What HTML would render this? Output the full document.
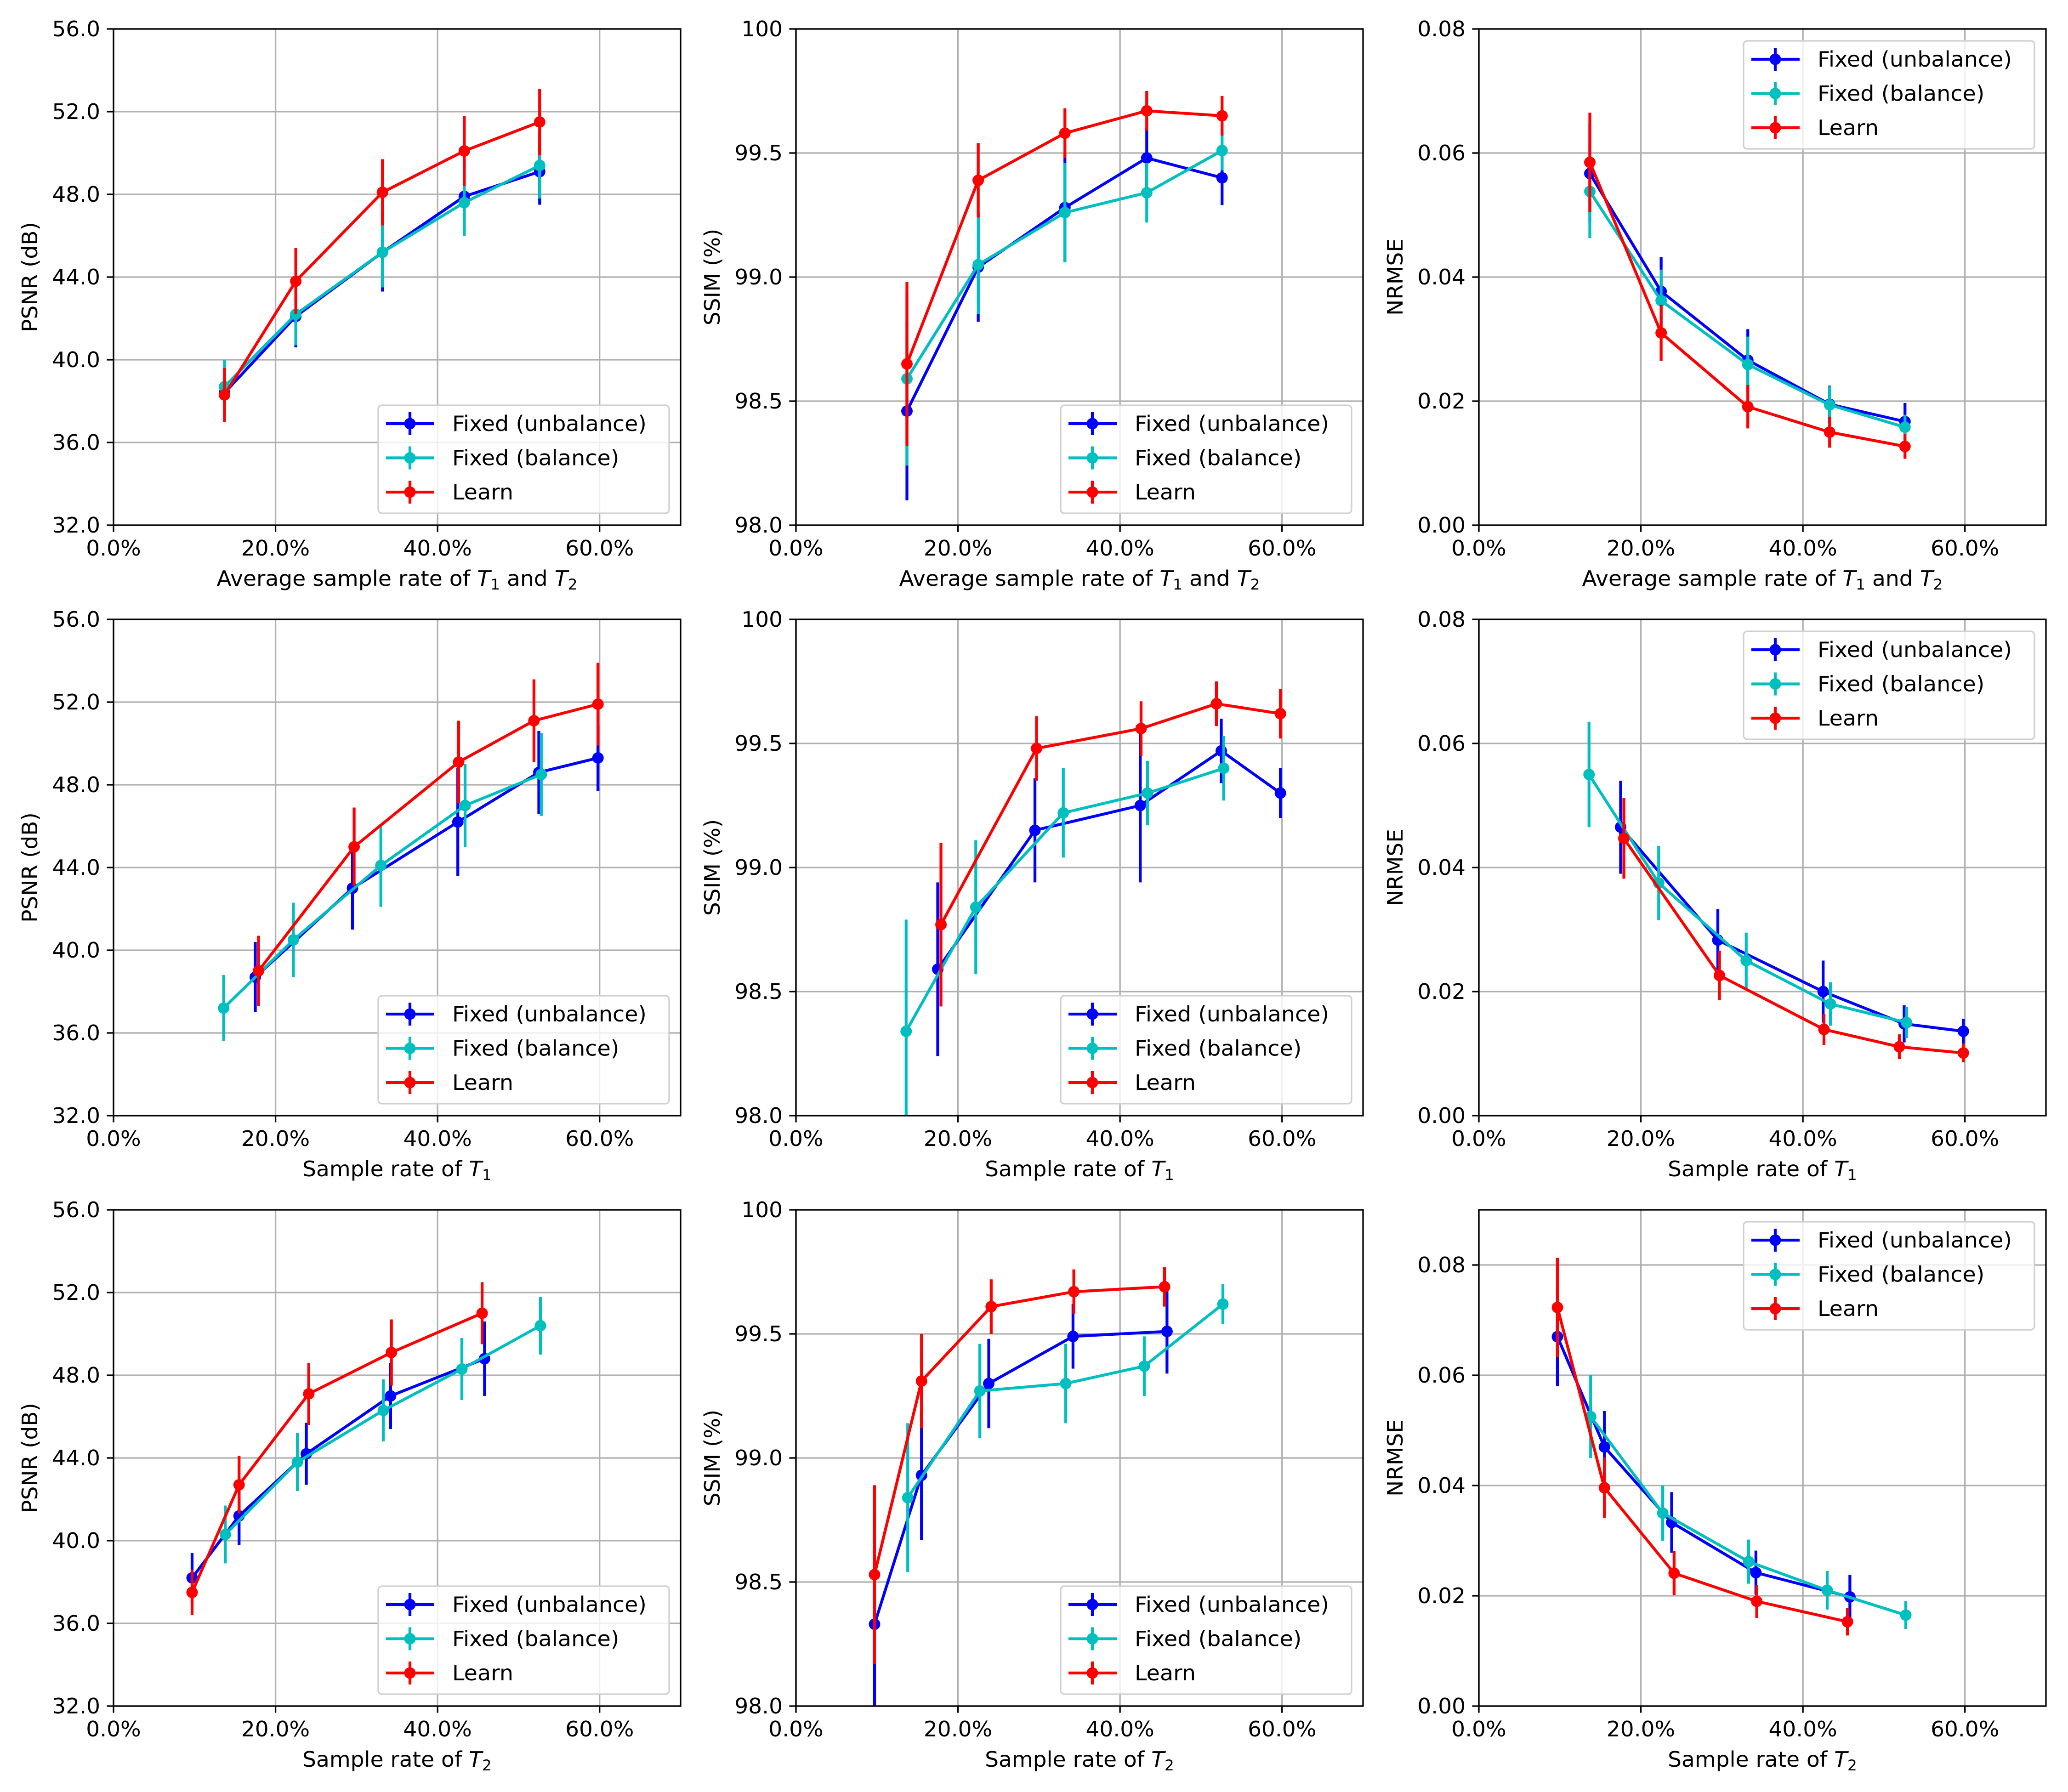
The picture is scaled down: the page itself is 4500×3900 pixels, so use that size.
<!DOCTYPE html>
<html><head><meta charset="utf-8">
<style>
html,body{margin:0;padding:0;background:#fff;}
svg{display:block;font-family:"DejaVu Sans","Liberation Sans",sans-serif;}
</style></head>
<body>
<svg id="fig" width="4500" height="3900" viewBox="0 0 4500 3900" xmlns="http://www.w3.org/2000/svg"></svg>
<script>
// ---- data ----
const xAvg = [13.7, 22.5, 33.2, 43.3, 52.6];
const xT1Unb = [17.5, 29.5, 42.5, 52.5, 59.8];
const xT1Bal = [13.6, 22.2, 33.0, 43.4, 52.8];
const xT1Lrn = [17.9, 29.7, 42.6, 51.9, 59.8];
const xT2Unb = [9.7, 15.5, 23.8, 34.2, 45.8];
const xT2Bal = [13.8, 22.7, 33.3, 43.0, 52.7];
const xT2Lrn = [9.7, 15.5, 24.1, 34.3, 45.5];

const p1UnbY = [38.4, 42.1, 45.2, 47.9, 49.1];
const p1UnbE = [1.3, 1.5, 1.9, 1.8, 1.6];
const p1BalY = [38.7, 42.2, 45.2, 47.6, 49.4];
const p1BalE = [1.3, 1.5, 1.7, 1.6, 1.6];
const p1LrnY = [38.3, 43.8, 48.1, 50.1, 51.5];
const p1LrnE = [1.3, 1.6, 1.6, 1.7, 1.6];

const p2UnbY = [98.46, 99.04, 99.28, 99.48, 99.40];
const p2UnbE = [0.36, 0.22, 0.22, 0.12, 0.11];
const p2BalY = [98.59, 99.05, 99.26, 99.34, 99.51];
const p2BalE = [0.35, 0.20, 0.20, 0.12, 0.08];
const p2LrnY = [98.65, 99.39, 99.58, 99.67, 99.65];
const p2LrnE = [0.33, 0.15, 0.10, 0.08, 0.08];

const p3UnbY = [0.0567, 0.0377, 0.0266, 0.0195, 0.0167];
const p3UnbE = [0.008, 0.0055, 0.005, 0.003, 0.003];
const p3BalY = [0.0538, 0.0362, 0.0259, 0.0194, 0.0158];
const p3BalE = [0.0075, 0.005, 0.0045, 0.003, 0.002];
const p3LrnY = [0.0585, 0.031, 0.0191, 0.015, 0.0127];
const p3LrnE = [0.008, 0.0045, 0.0035, 0.0025, 0.002];

const p4UnbY = [38.7, 43.0, 46.2, 48.6, 49.3];
const p4UnbE = [1.7, 2.0, 2.6, 2.0, 1.6];
const p4BalY = [37.2, 40.5, 44.1, 47.0, 48.5];
const p4BalE = [1.6, 1.8, 2.0, 2.0, 2.0];
const p4LrnY = [39.0, 45.0, 49.1, 51.1, 51.9];
const p4LrnE = [1.7, 1.9, 2.0, 2.0, 2.0];

const p5UnbY = [98.59, 99.15, 99.25, 99.47, 99.30];
const p5UnbE = [0.35, 0.21, 0.31, 0.13, 0.10];
const p5BalY = [98.34, 98.84, 99.22, 99.30, 99.40];
const p5BalE = [0.45, 0.27, 0.18, 0.13, 0.13];
const p5LrnY = [98.77, 99.48, 99.56, 99.66, 99.62];
const p5LrnE = [0.33, 0.13, 0.11, 0.09, 0.10];

const p6UnbY = [0.0465, 0.0283, 0.0200, 0.0148, 0.0136];
const p6UnbE = [0.0075, 0.005, 0.005, 0.003, 0.002];
const p6BalY = [0.055, 0.0375, 0.0250, 0.0180, 0.0150];
const p6BalE = [0.0085, 0.006, 0.0045, 0.0035, 0.0025];
const p6LrnY = [0.0447, 0.0226, 0.0139, 0.0111, 0.0101];
const p6LrnE = [0.0065, 0.004, 0.0025, 0.002, 0.0015];

const p7UnbY = [38.2, 41.2, 44.2, 47.0, 48.8];
const p7UnbE = [1.2, 1.4, 1.5, 1.6, 1.8];
const p7BalY = [40.3, 43.8, 46.3, 48.3, 50.4];
const p7BalE = [1.4, 1.4, 1.5, 1.5, 1.4];
const p7LrnY = [37.5, 42.7, 47.1, 49.1, 51.0];
const p7LrnE = [1.1, 1.4, 1.5, 1.6, 1.5];

const p8UnbY = [98.33, 98.93, 99.30, 99.49, 99.51];
const p8UnbE = [0.45, 0.26, 0.18, 0.13, 0.17];
const p8BalY = [98.84, 99.27, 99.30, 99.37, 99.62];
const p8BalE = [0.30, 0.19, 0.16, 0.12, 0.08];
const p8LrnY = [98.53, 99.31, 99.61, 99.67, 99.69];
const p8LrnE = [0.36, 0.19, 0.11, 0.09, 0.08];

const p9UnbY = [0.067, 0.047, 0.0333, 0.0242, 0.0198];
const p9UnbE = [0.009, 0.0065, 0.0055, 0.004, 0.004];
const p9BalY = [0.0525, 0.035, 0.0262, 0.021, 0.0165];
const p9BalE = [0.0075, 0.005, 0.004, 0.0035, 0.0025];
const p9LrnY = [0.0723, 0.0396, 0.0241, 0.0190, 0.0153];
const p9LrnE = [0.009, 0.0055, 0.004, 0.003, 0.0025];

const xTickVals = [0, 20, 40, 60];
const xTickLabels = ["0.0%", "20.0%", "40.0%", "60.0%"];
const psnrTicks = [32, 36, 40, 44, 48, 52, 56];
const psnrTickLabels = ["32.0", "36.0", "40.0", "44.0", "48.0", "52.0", "56.0"];
const ssimTicks = [98.0, 98.5, 99.0, 99.5, 100];
const ssimTickLabels = ["98.0", "98.5", "99.0", "99.5", "100"];
const nrmseTicks = [0, 0.02, 0.04, 0.06, 0.08];
const nrmseTickLabels = ["0.00", "0.02", "0.04", "0.06", "0.08"];
const seriesNames = ["Fixed (unbalance)", "Fixed (balance)", "Learn"];

// ---- layout ----
const NS = "http://www.w3.org/2000/svg";
const svg = document.getElementById("fig");
const colLeft = [247, 1732, 3218];
const rowTop = [63, 1348, 2633];
const AW = 1234, AH = 1080;
const COLORS = ["#0000ff", "#00bfbf", "#ff0000"];
const FS = 46;

// approximate DejaVu Sans advance widths (em) to fix text lengths
const CW = {"0":.636,"1":.636,"2":.636,"3":.636,"4":.636,"5":.636,"6":.636,"7":.636,"8":.636,"9":.636,
  ".":.318,"%":.95," ":.318,"(":.39,")":.39,"F":.575,"i":.278,"x":.592,"e":.615,"d":.635,"u":.634,"n":.634,
  "b":.635,"a":.613,"l":.278,"c":.55,"L":.557,"r":.411,"P":.603,"S":.635,"N":.748,"R":.695,"B":.686,"M":.863,
  "I":.295,"E":.632,"A":.684,"v":.592,"g":.635,"m":.974,"p":.635,"o":.612,"f":.352,"s":.521,"t":.392,"T":.611};
function tw(s, fs) { let w = 0; for (const ch of s) w += (CW[ch] || .6); return w * fs; }

function mk(tag, attrs, parent) {
  const e = document.createElementNS(NS, tag);
  for (const k in attrs) e.setAttribute(k, attrs[k]);
  (parent || svg).appendChild(e);
  return e;
}
function fit(el, len) {
  el.setAttribute("textLength", len.toFixed(1));
  el.setAttribute("lengthAdjust", "spacingAndGlyphs");
}

const panels = [
  {r:0,c:0,ylab:"PSNR (dB)",xl:"avg",ymin:32,ymax:56,yt:psnrTicks,ytl:psnrTickLabels,leg:"lower",
   xs:[xAvg,xAvg,xAvg],ys:[p1UnbY,p1BalY,p1LrnY],es:[p1UnbE,p1BalE,p1LrnE]},
  {r:0,c:1,ylab:"SSIM (%)",xl:"avg",ymin:98,ymax:100,yt:ssimTicks,ytl:ssimTickLabels,leg:"lower",
   xs:[xAvg,xAvg,xAvg],ys:[p2UnbY,p2BalY,p2LrnY],es:[p2UnbE,p2BalE,p2LrnE]},
  {r:0,c:2,ylab:"NRMSE",xl:"avg",ymin:0,ymax:0.08,yt:nrmseTicks,ytl:nrmseTickLabels,leg:"upper",
   xs:[xAvg,xAvg,xAvg],ys:[p3UnbY,p3BalY,p3LrnY],es:[p3UnbE,p3BalE,p3LrnE]},
  {r:1,c:0,ylab:"PSNR (dB)",xl:"1",ymin:32,ymax:56,yt:psnrTicks,ytl:psnrTickLabels,leg:"lower",
   xs:[xT1Unb,xT1Bal,xT1Lrn],ys:[p4UnbY,p4BalY,p4LrnY],es:[p4UnbE,p4BalE,p4LrnE]},
  {r:1,c:1,ylab:"SSIM (%)",xl:"1",ymin:98,ymax:100,yt:ssimTicks,ytl:ssimTickLabels,leg:"lower",
   xs:[xT1Unb,xT1Bal,xT1Lrn],ys:[p5UnbY,p5BalY,p5LrnY],es:[p5UnbE,p5BalE,p5LrnE]},
  {r:1,c:2,ylab:"NRMSE",xl:"1",ymin:0,ymax:0.08,yt:nrmseTicks,ytl:nrmseTickLabels,leg:"upper",
   xs:[xT1Unb,xT1Bal,xT1Lrn],ys:[p6UnbY,p6BalY,p6LrnY],es:[p6UnbE,p6BalE,p6LrnE]},
  {r:2,c:0,ylab:"PSNR (dB)",xl:"2",ymin:32,ymax:56,yt:psnrTicks,ytl:psnrTickLabels,leg:"lower",
   xs:[xT2Unb,xT2Bal,xT2Lrn],ys:[p7UnbY,p7BalY,p7LrnY],es:[p7UnbE,p7BalE,p7LrnE]},
  {r:2,c:1,ylab:"SSIM (%)",xl:"2",ymin:98,ymax:100,yt:ssimTicks,ytl:ssimTickLabels,leg:"lower",
   xs:[xT2Unb,xT2Bal,xT2Lrn],ys:[p8UnbY,p8BalY,p8LrnY],es:[p8UnbE,p8BalE,p8LrnE]},
  {r:2,c:2,ylab:"NRMSE",xl:"2",ymin:0,ymax:0.09,yt:nrmseTicks,ytl:nrmseTickLabels,leg:"upper",
   xs:[xT2Unb,xT2Bal,xT2Lrn],ys:[p9UnbY,p9BalY,p9LrnY],es:[p9UnbE,p9BalE,p9LrnE]}
];

panels.forEach((p, idx) => {
  const L = colLeft[p.c], T = rowTop[p.r];
  const g = mk("g", {});
  
  
  const xs = v => L + (v / 70) * AW;
  const ys = v => T + AH - (v - p.ymin) / (p.ymax - p.ymin) * AH;
  const clipId = "clip" + idx;
  const cp = mk("clipPath", {id: clipId}, g);
  mk("rect", {x: L, y: T, width: AW, height: AH}, cp);

  xTickVals.forEach(v => {
    const l = mk("line", {x1: xs(v), x2: xs(v), y1: T, y2: T + AH, stroke: "#b0b0b0", "stroke-width": 3.3}, g);
    
    
  });
  p.yt.forEach(v => {
    const l = mk("line", {x1: L, x2: L + AW, y1: ys(v), y2: ys(v), stroke: "#b0b0b0", "stroke-width": 3.3}, g);
    
    
  });

  const dg = mk("g", {"clip-path": "url(#" + clipId + ")"}, g);
  for (let s = 0; s < 3; s++) {
    const sg = mk("g", {}, dg);
    
    
    const X = p.xs[s], Y = p.ys[s], E = p.es[s];
    const pts = X.map((x, i) => xs(x).toFixed(1) + "," + ys(Y[i]).toFixed(1)).join(" ");
    const pl = mk("polyline", {points: pts, fill: "none", stroke: COLORS[s], "stroke-width": 6.25, "stroke-linejoin": "round"}, sg);
    
    
    X.forEach((x, i) => {
      const eb = mk("line", {x1: xs(x), x2: xs(x), y1: ys(Y[i] - E[i]), y2: ys(Y[i] + E[i]), stroke: COLORS[s], "stroke-width": 6.25}, sg);
      
      
    });
    X.forEach((x, i) => {
      const c = mk("circle", {cx: xs(x), cy: ys(Y[i]), r: 12.5, fill: COLORS[s]}, sg);
      
      
    });
  }

  const sp = mk("rect", {x: L, y: T, width: AW, height: AH, fill: "none", stroke: "#000", "stroke-width": 3.3}, g);
  
  

  xTickVals.forEach((v, i) => {
    mk("line", {x1: xs(v), x2: xs(v), y1: T + AH, y2: T + AH + 14.6, stroke: "#000", "stroke-width": 3.3}, g);
    const t = mk("text", {x: xs(v), y: T + AH + 66, "font-size": FS, "text-anchor": "middle", fill: "#000"}, g);
    t.textContent = xTickLabels[i];
    fit(t, tw(xTickLabels[i], 47));
    
    
  });
  p.yt.forEach((v, i) => {
    if (v > p.ymax) return;
    mk("line", {x1: L - 14.6, x2: L, y1: ys(v), y2: ys(v), stroke: "#000", "stroke-width": 3.3}, g);
    const t = mk("text", {x: L - 29, y: ys(v) + 16, "font-size": FS, "text-anchor": "end", fill: "#000"}, g);
    t.textContent = p.ytl[i];
    fit(t, tw(p.ytl[i], 47));
    
    
  });

  const yl = mk("text", {x: 0, y: 0, "font-size": FS, "text-anchor": "middle", fill: "#000",
    transform: "translate(" + (L - 166) + "," + (T + AH / 2) + ") rotate(-90)"}, g);
  yl.textContent = p.ylab;
  fit(yl, tw(p.ylab, 47));
  
  

  const xl = mk("text", {x: L + AW / 2, y: T + AH + 132, "font-size": FS, "text-anchor": "middle", fill: "#000"}, g);
  
  
  let len = 0;
  function addT(n) {
    const a = mk("tspan", {"font-style": "italic"}, xl); a.textContent = "T";
    const b = mk("tspan", {"font-size": 32, dy: 8}, xl); b.textContent = n;
    len += tw("T", 47) + tw(n, 33);
  }
  if (p.xl === "avg") {
    const a = mk("tspan", {}, xl); a.textContent = "Average sample rate of ";
    len += tw("Average sample rate of ", 47);
    addT("1");
    const c = mk("tspan", {dy: -8}, xl); c.textContent = " and ";
    len += tw(" and ", 47);
    addT("2");
  } else {
    const a = mk("tspan", {}, xl); a.textContent = "Sample rate of ";
    len += tw("Sample rate of ", 47);
    addT(p.xl);
  }
  fit(xl, len);

  const LW = 633, LH = 235;
  const lx = L + AW - 25 - LW;
  const ly = p.leg === "lower" ? T + AH - 26 - LH : T + 26;
  const lg = mk("g", {}, g);
  
  
  mk("rect", {x: lx, y: ly, width: LW, height: LH, rx: 8, fill: "#fff", "fill-opacity": 0.8, stroke: "#d0d0d0", "stroke-width": 3.3}, lg);
  seriesNames.forEach((nm, s) => {
    const cy = ly + 40 + s * 74.5;
    const e = mk("g", {}, lg);
    
    
    mk("line", {x1: lx + 17, x2: lx + 122, y1: cy, y2: cy, stroke: COLORS[s], "stroke-width": 6.25}, e);
    mk("line", {x1: lx + 69, x2: lx + 69, y1: cy - 25, y2: cy + 25, stroke: COLORS[s], "stroke-width": 6.25}, e);
    mk("circle", {cx: lx + 69, cy: cy, r: 12.5, fill: COLORS[s]}, e);
    const t = mk("text", {x: lx + 161, y: cy + 16, "font-size": FS, fill: "#000"}, e);
    t.textContent = nm;
    fit(t, tw(nm, 47));
  });
});
</script>
</body></html>
